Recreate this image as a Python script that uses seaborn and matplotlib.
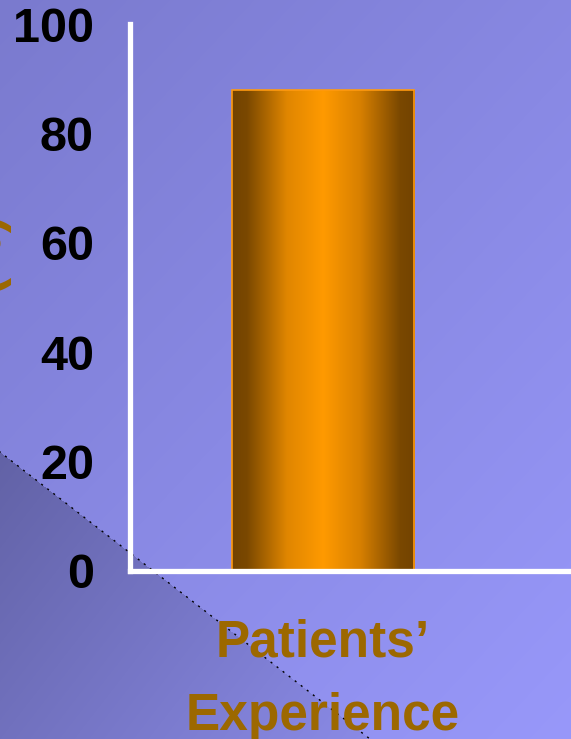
import numpy as np
import pandas as pd
import matplotlib
matplotlib.use("Agg")
import matplotlib.pyplot as plt
from matplotlib.colors import LinearSegmentedColormap
import seaborn as sns

# Chart data
categories = ["Patients\u2019\nExperience"]
values = [88]
y_ticks = [0, 20, 40, 60, 80, 100]
y_label = "(%)"

W, H = 571, 739
DPI = 100

sns.set_theme(style="white")
plt.rcParams["font.family"] = ["Liberation Sans", "DejaVu Sans"]
plt.rcParams["font.weight"] = "bold"

fig = plt.figure(figsize=(W / DPI, H / DPI), dpi=DPI)

# Slide background: diagonal blue-violet gradient with a darker lower-left wedge
bg = fig.add_axes([0, 0, 1, 1], zorder=-10)
yy, xx = np.mgrid[0:H, 0:W].astype(float)
t = np.clip((xx / W) * 0.45 + (yy / H) * 0.55, 0, 1)
c0 = np.array([0x7a, 0x7a, 0xce]) / 255
c1 = np.array([0x98, 0x98, 0xfa]) / 255
img = c0[None, None, :] * (1 - t[..., None]) + c1[None, None, :] * t[..., None]

p0 = np.array([0.0, 452.0])
p1 = np.array([370.0, 739.0])
d = p1 - p0
side = (xx - p0[0]) * d[1] - (yy - p0[1]) * d[0]
inside = side < 0
s = np.clip(((xx - p0[0]) * d[0] + (yy - p0[1]) * d[1]) / (d @ d), 0, 1)
w0 = np.array([0x62, 0x62, 0xa6]) / 255
w1 = np.array([0x8a, 0x8a, 0xe6]) / 255
wedge = w0[None, None, :] * (1 - s[..., None]) + w1[None, None, :] * s[..., None]
img[inside] = wedge[inside]
bg.imshow(img, extent=(0, W, H, 0), aspect="auto", interpolation="bilinear")
u = d / np.linalg.norm(d)
bg.plot([p0[0] - 20 * u[0], p1[0] + 20 * u[0]],
        [p0[1] - 20 * u[1], p1[1] + 20 * u[1]],
        color="black", lw=1.0, ls=(0, (1.5, 4)))
bg.set_xlim(0, W)
bg.set_ylim(H, 0)
bg.axis("off")

# Main chart
left, bottom, top = 130 / W, 1 - 571 / H, 1 - 24 / H
ax = fig.add_axes([left, bottom, 1 - left, top - bottom])
ax.patch.set_alpha(0)

df = pd.DataFrame({"category": categories, "value": values})
sns.barplot(data=df, x="category", y="value", ax=ax, width=0.8,
            color="#ff9900", saturation=1)

ax.set_yticks(y_ticks)
ax.set_yticklabels([str(v) for v in y_ticks], fontweight="bold")
ax.set_xticks(range(len(categories)))
ax.set_xticklabels(categories, fontweight="bold", ha="center", linespacing=1.65)
ax.set_xlabel("")
ax.set_ylabel("")

# Cylinder-style shading clipped to each bar
shade = LinearSegmentedColormap.from_list(
    "cyl",
    [(0.0, "#734300"), (0.08, "#7a4800"), (0.30, "#e08600"),
     (0.50, "#ff9a00"), (0.70, "#d88000"), (0.92, "#7a4800"), (1.0, "#734300")])
grad = np.linspace(0, 1, 256)[None, :]
for bar in ax.patches:
    x0, yb = bar.get_x(), bar.get_y()
    bw, bh = bar.get_width(), bar.get_height()
    im = ax.imshow(grad, cmap=shade, extent=(x0, x0 + bw, yb, yb + bh),
                   aspect="auto", zorder=bar.get_zorder(), interpolation="bilinear")
    im.set_clip_path(bar)
    bar.set_facecolor("none")
    bar.set_edgecolor("#ff9a10")
    bar.set_linewidth(1.2)
    bar.set_zorder(bar.get_zorder() + 0.1)
ax.set_xlim(-0.848, 1.09)
ax.set_ylim(0, 100)

for sp in ["top", "right"]:
    ax.spines[sp].set_visible(False)
for sp in ["left", "bottom"]:
    ax.spines[sp].set_color("white")
    ax.spines[sp].set_linewidth(3.8)

ax.tick_params(axis="y", direction="out", length=11, width=3.6, color="white",
               pad=15, labelsize=35, labelcolor="black")
ax.tick_params(axis="x", length=0, pad=34, labelsize=37, labelcolor="#9c6800")

# Axis title running off the left edge
fig.text(-15 / W, 1 - 212 / H, y_label, rotation=90, ha="center", va="top",
         fontsize=37, fontweight="bold", color="#9c6800")

fig.savefig("out.png", dpi=DPI)
